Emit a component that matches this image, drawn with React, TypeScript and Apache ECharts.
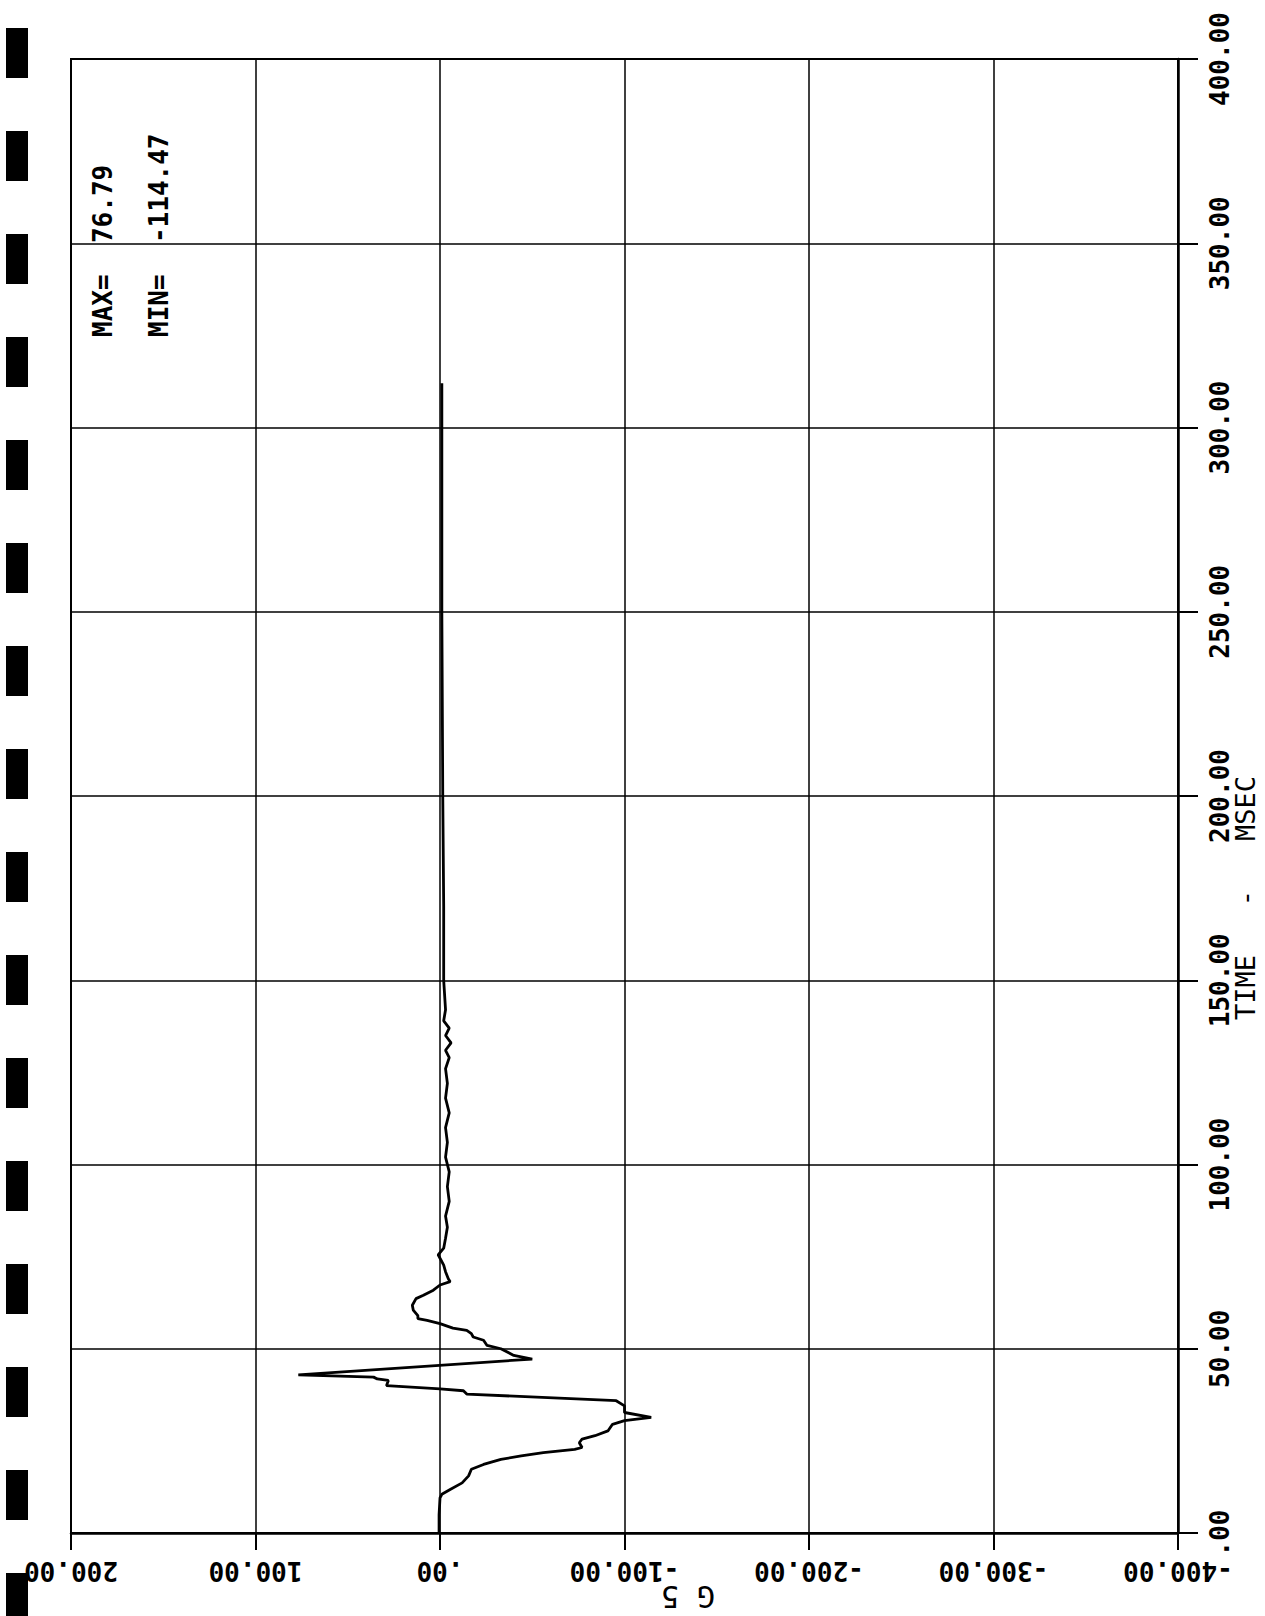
import React, { useEffect, useRef } from "react";
import * as echarts from "echarts";

// Time (ms) along the vertical axis, acceleration (G) along the horizontal axis
const timeMs = [
  0, 5, 9.5, 10.5, 11.8, 13.6, 15.5, 17.3, 18.6, 20, 20.9, 21.8, 22.7, 23.2, 24.5, 25.5, 26.4, 27.7,
  29.5, 30.5, 31.4, 32.7, 34.5, 35.9, 37.7, 38.6, 39.1, 40, 41.4, 41.8, 42.3, 42.9, 47.2, 48.2, 50,
  50.9, 52.3, 53.2, 54.1, 55, 55.6, 56.8, 57.7, 58.2, 59, 60.5, 61.8, 63.6, 64.5, 65.9, 67.3, 68.2,
  69, 70.9, 72.7, 75.5, 77.3, 80, 83, 86, 90, 94, 98, 102, 106, 110, 114, 118, 122, 126, 129, 131,
  133, 135, 137, 139, 142, 150, 170, 200, 250, 280, 312,
];
const accelG = [
  0.5, 0.5, 0, -1, -5.5, -12, -15.5, -17, -23.6, -33, -44, -56, -73, -77, -75.5, -77, -84, -91,
  -93.5, -100, -114.47, -100, -100, -95.5, -14.5, -12.7, 0, 29, 28, 34, 36, 76.79, -50, -40, -33,
  -25.5, -23.6, -18, -17, -14.5, -7, 0, 7, 12, 12, 14.5, 15, 13, 9, 3.6, 0, -5.5,
  -4.5, -3, -2, 1, -2, -3, -4, -3, -5, -4, -5, -3, -4, -3, -5, -3, -4, -3, -5, -3,
  -6, -3, -5, -2, -3, -2, -2, -1.5, -1, -1, -1,
];

const gAxis = { min: -400, max: 200, interval: 100 };
const timeAxis = { min: 0, max: 400, interval: 50 };

const maxText = "MAX=  76.79";
const minText = "MIN=  -114.47";
const timeName = "TIME   -   MSEC";
const gName = "G 5";

const MONO = '"DejaVu Sans Mono", monospace';

function fmt(v: number): string {
  return v === 0 ? ".00" : v.toFixed(2);
}

export default function App() {
  const ref = useRef<HTMLDivElement>(null);

  useEffect(() => {
    document.body.style.margin = "0";
    const chart = echarts.init(ref.current!, null, { renderer: "svg" });

    const holes: any[] = [];
    for (let i = 0; i < 16; i++) {
      holes.push({
        type: "rect",
        shape: { x: 6, y: 28 + 103 * i, width: 22, height: 50 },
        style: { fill: "#000" },
        silent: true,
      });
    }

    const textEl = (
      x: number,
      y: number,
      rotation: number,
      text: string,
      font: string,
      align: string
    ) => ({
      type: "text",
      x,
      y,
      rotation,
      silent: true,
      z: 100,
      style: {
        text,
        font,
        fill: "#000",
        align,
        textAlign: align,
        verticalAlign: "middle",
        textVerticalAlign: "middle",
      },
    });

    chart.setOption({
      animation: false,
      backgroundColor: "#fff",
      grid: {
        left: 71,
        right: 87,
        top: 59,
        bottom: 83,
        show: true,
        borderColor: "#000",
        borderWidth: 2,
      },
      xAxis: {
        type: "value",
        min: gAxis.min,
        max: gAxis.max,
        interval: gAxis.interval,
        inverse: true,
        position: "bottom",
        axisLine: { show: true, onZero: false, lineStyle: { color: "#000", width: 2.5 } },
        axisTick: { show: true, length: 17, inside: false, lineStyle: { color: "#000", width: 2 } },
        splitLine: { show: true, lineStyle: { color: "#000", width: 1.5 } },
        axisLabel: {
          rotate: 180,
          margin: 25,
          formatter: fmt,
          color: "#000",
          fontFamily: MONO,
          fontWeight: "bold",
          fontSize: 26,
          showMinLabel: true,
          showMaxLabel: true,
        },
      },
      yAxis: {
        type: "value",
        min: timeAxis.min,
        max: timeAxis.max,
        interval: timeAxis.interval,
        position: "right",
        axisLine: { show: true, onZero: false, lineStyle: { color: "#000", width: 2.5 } },
        axisTick: { show: true, length: 20, inside: false, lineStyle: { color: "#000", width: 2 } },
        splitLine: { show: true, lineStyle: { color: "#000", width: 1.5 } },
        axisLabel: {
          rotate: 90,
          margin: 29,
          formatter: fmt,
          color: "#000",
          fontFamily: MONO,
          fontWeight: "bold",
          fontSize: 26,
          showMinLabel: true,
          showMaxLabel: true,
        },
      },
      series: [
        {
          type: "line",
          data: timeMs.map((t, i) => [accelG[i], t]),
          showSymbol: false,
          symbol: "none",
          lineStyle: { color: "#000", width: 2.8 },
          clip: false,
        },
      ],
      graphic: [
        ...holes,
        textEl(1245, 898, Math.PI / 2, timeName, `27px ${MONO}`, "center"),
        textEl(688, 1596, Math.PI, gName, `30px ${MONO}`, "center"),
        textEl(103, 337, Math.PI / 2, maxText, `bold 26px ${MONO}`, "left"),
        textEl(159, 337, Math.PI / 2, minText, `bold 26px ${MONO}`, "left"),
      ],
    });

    return () => chart.dispose();
  }, []);

  return (
    <div
      ref={ref}
      style={{ position: "absolute", left: 0, top: 0, width: 1265, height: 1616, background: "#fff" }}
    />
  );
}
